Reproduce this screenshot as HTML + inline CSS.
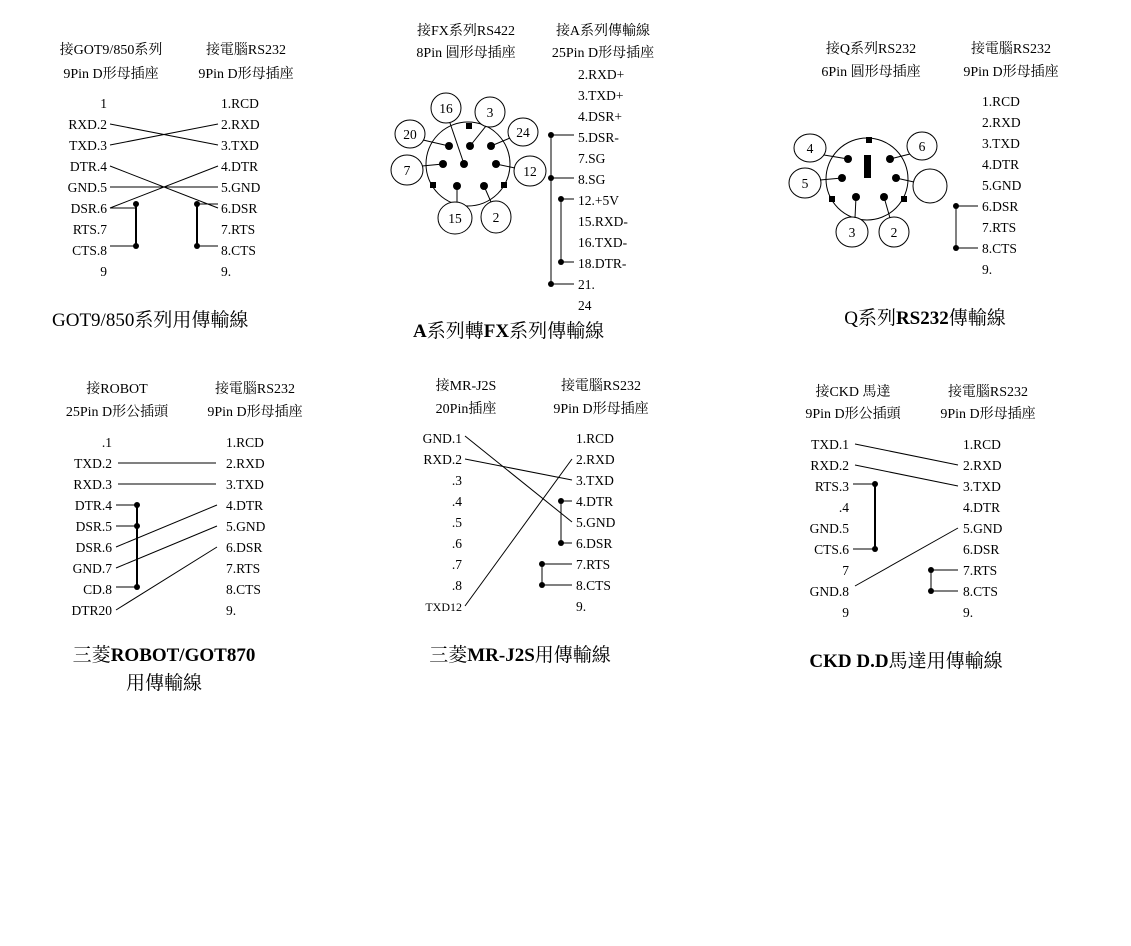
<!DOCTYPE html>
<html><head><meta charset="utf-8"><style>
html,body{margin:0;padding:0;background:#fff;}
svg{display:block;}
text{font-family:"Liberation Serif","Noto Serif CJK SC",serif;font-size:13.5px;fill:#000;}
.h{font-size:14px;}
.t{font-size:19px;}
.r{text-anchor:end;}
.m{text-anchor:middle;}
line,path,polyline{stroke:#000;stroke-width:1;fill:none;}
circle.d{fill:#000;stroke:none;}
ellipse{fill:#fff;stroke:#000;stroke-width:1;}
</style></head><body>
<svg width="1131" height="946" xmlns="http://www.w3.org/2000/svg">
<!-- Panel 1 -->
<text class="h m" x="111" y="54">接GOT9/850系列</text>
<text class="h m" x="111" y="78">9Pin D形母插座</text>
<text class="h m" x="246" y="54">接電腦RS232</text>
<text class="h m" x="246" y="78">9Pin D形母插座</text>
<g class="r">
<text class="r" x="107" y="108">1</text><text class="r" x="107" y="129">RXD.2</text><text class="r" x="107" y="150">TXD.3</text>
<text class="r" x="107" y="171">DTR.4</text><text class="r" x="107" y="192">GND.5</text><text class="r" x="107" y="213">DSR.6</text>
<text class="r" x="107" y="234">RTS.7</text><text class="r" x="107" y="255">CTS.8</text><text class="r" x="107" y="276">9</text>
</g>
<text x="221" y="108">1.RCD</text><text x="221" y="129">2.RXD</text><text x="221" y="150">3.TXD</text>
<text x="221" y="171">4.DTR</text><text x="221" y="192">5.GND</text><text x="221" y="213">6.DSR</text>
<text x="221" y="234">7.RTS</text><text x="221" y="255">8.CTS</text><text x="221" y="276">9.</text>
<line x1="110" y1="124" x2="218" y2="145"/><line x1="110" y1="145" x2="218" y2="124"/>
<line x1="110" y1="166" x2="218" y2="208"/><line x1="110" y1="187" x2="218" y2="187"/>
<line x1="110" y1="208" x2="218" y2="166"/>
<line x1="110" y1="208" x2="136" y2="208"/><line x1="110" y1="246" x2="136" y2="246"/>
<line x1="136" y1="204" x2="136" y2="246" style="stroke-width:2"/>
<circle class="d" cx="136" cy="204" r="3"/><circle class="d" cx="136" cy="246" r="3"/>
<line x1="197" y1="204" x2="218" y2="204"/><line x1="197" y1="246" x2="218" y2="246"/>
<line x1="197" y1="204" x2="197" y2="246" style="stroke-width:2"/>
<circle class="d" cx="197" cy="204" r="3"/><circle class="d" cx="197" cy="246" r="3"/>
<text class="t" x="52" y="326">GOT9/850系列用傳輸線</text>

<!-- Panel 2 -->
<text class="h m" x="466" y="35">接FX系列RS422</text>
<text class="h m" x="466" y="57">8Pin 圓形母插座</text>
<text class="h m" x="603" y="35">接A系列傳輸線</text>
<text class="h m" x="603" y="57">25Pin D形母插座</text>
<text x="578" y="79">2.RXD+</text><text x="578" y="100">3.TXD+</text><text x="578" y="121">4.DSR+</text>
<text x="578" y="142">5.DSR-</text><text x="578" y="163">7.SG</text><text x="578" y="184">8.SG</text>
<text x="578" y="205">12.+5V</text><text x="578" y="226">15.RXD-</text><text x="578" y="247">16.TXD-</text>
<text x="578" y="268">18.DTR-</text><text x="578" y="289">21.</text>
<svg x="570" y="295" width="40" height="15" overflow="hidden"><text x="8" y="15">24</text></svg>
<line x1="551" y1="135" x2="551" y2="284"/>
<line x1="551" y1="135" x2="574" y2="135"/><line x1="551" y1="178" x2="574" y2="178"/><line x1="551" y1="284" x2="574" y2="284"/>
<circle class="d" cx="551" cy="135" r="3"/><circle class="d" cx="551" cy="178" r="3"/><circle class="d" cx="551" cy="284" r="3"/>
<line x1="561" y1="199" x2="561" y2="262"/>
<line x1="561" y1="199" x2="574" y2="199"/><line x1="561" y1="262" x2="574" y2="262"/>
<circle class="d" cx="561" cy="199" r="3"/><circle class="d" cx="561" cy="262" r="3"/>
<circle cx="468" cy="164" r="42" style="fill:none;stroke:#000"/>
<g>
<ellipse cx="446" cy="108" rx="15" ry="15"/><text class="m" x="446" y="113">16</text>
<ellipse cx="490" cy="112" rx="15" ry="15"/><text class="m" x="490" y="117">3</text>
<ellipse cx="410" cy="134" rx="15" ry="14"/><text class="m" x="410" y="139">20</text>
<ellipse cx="523" cy="132" rx="15" ry="14"/><text class="m" x="523" y="137">24</text>
<ellipse cx="407" cy="170" rx="16" ry="15"/><text class="m" x="407" y="175">7</text>
<ellipse cx="530" cy="171" rx="16" ry="15"/><text class="m" x="530" y="176">12</text>
<ellipse cx="455" cy="218" rx="17" ry="16"/><text class="m" x="455" y="223">15</text>
<ellipse cx="496" cy="217" rx="15" ry="16"/><text class="m" x="496" y="222">2</text>
</g>
<line x1="450" y1="123" x2="464" y2="164"/><line x1="486" y1="126" x2="470" y2="146"/>
<line x1="423" y1="140" x2="449" y2="146"/><line x1="510" y1="138" x2="491" y2="146"/>
<line x1="422" y1="166" x2="443" y2="164"/><line x1="515" y1="168" x2="496" y2="164"/>
<line x1="457" y1="202" x2="457" y2="186"/><line x1="491" y1="202" x2="484" y2="186"/>
<circle class="d" cx="449" cy="146" r="4"/><circle class="d" cx="470" cy="146" r="4"/><circle class="d" cx="491" cy="146" r="4"/>
<circle class="d" cx="443" cy="164" r="4"/><circle class="d" cx="464" cy="164" r="4"/><circle class="d" cx="496" cy="164" r="4"/>
<circle class="d" cx="457" cy="186" r="4"/><circle class="d" cx="484" cy="186" r="4"/>
<rect x="466" y="123" width="6" height="6"/><rect x="430" y="182" width="6" height="6"/><rect x="501" y="182" width="6" height="6"/>
<text class="t" x="413" y="337"><tspan font-weight="bold">A</tspan>系列轉<tspan font-weight="bold">FX</tspan>系列傳輸線</text>

<!-- Panel 3 -->
<text class="h m" x="871" y="53">接Q系列RS232</text>
<text class="h m" x="871" y="76">6Pin 圓形母插座</text>
<text class="h m" x="1011" y="53">接電腦RS232</text>
<text class="h m" x="1011" y="76">9Pin D形母插座</text>
<text x="982" y="106">1.RCD</text><text x="982" y="127">2.RXD</text><text x="982" y="148">3.TXD</text>
<text x="982" y="169">4.DTR</text><text x="982" y="190">5.GND</text><text x="982" y="211">6.DSR</text>
<text x="982" y="232">7.RTS</text><text x="982" y="253">8.CTS</text><text x="982" y="274">9.</text>
<line x1="956" y1="206" x2="978" y2="206"/><line x1="956" y1="248" x2="978" y2="248"/>
<line x1="956" y1="206" x2="956" y2="248"/>
<circle class="d" cx="956" cy="206" r="3"/><circle class="d" cx="956" cy="248" r="3"/>
<circle cx="867" cy="179" r="41" style="fill:none;stroke:#000"/>
<ellipse cx="810" cy="148" rx="16" ry="14"/><text class="m" x="810" y="153">4</text>
<ellipse cx="922" cy="146" rx="15" ry="14"/><text class="m" x="922" y="151">6</text>
<ellipse cx="805" cy="183" rx="16" ry="15"/><text class="m" x="805" y="188">5</text>
<ellipse cx="930" cy="186" rx="17" ry="17"/>
<ellipse cx="852" cy="232" rx="16" ry="15"/><text class="m" x="852" y="237">3</text>
<ellipse cx="894" cy="232" rx="15" ry="15"/><text class="m" x="894" y="237">2</text>
<line x1="824" y1="155" x2="848" y2="159"/><line x1="910" y1="154" x2="890" y2="159"/>
<line x1="820" y1="180" x2="842" y2="178"/><line x1="914" y1="182" x2="896" y2="178"/>
<line x1="855" y1="218" x2="856" y2="197"/><line x1="890" y1="218" x2="884" y2="197"/>
<circle class="d" cx="848" cy="159" r="4"/><circle class="d" cx="890" cy="159" r="4"/>
<circle class="d" cx="842" cy="178" r="4"/><circle class="d" cx="896" cy="178" r="4"/>
<circle class="d" cx="856" cy="197" r="4"/><circle class="d" cx="884" cy="197" r="4"/>
<rect x="866" y="137" width="6" height="6"/><rect x="829" y="196" width="6" height="6"/><rect x="901" y="196" width="6" height="6"/>
<rect x="864" y="155" width="7" height="23"/>
<text class="t m" x="925" y="324">Q系列<tspan font-weight="bold">RS232</tspan>傳輸線</text>

<!-- Panel 4 -->
<text class="h m" x="117" y="393">接ROBOT</text>
<text class="h m" x="117" y="416">25Pin D形公插頭</text>
<text class="h m" x="255" y="393">接電腦RS232</text>
<text class="h m" x="255" y="416">9Pin D形母插座</text>
<text class="r" x="112" y="447">.1</text><text class="r" x="112" y="468">TXD.2</text><text class="r" x="112" y="489">RXD.3</text>
<text class="r" x="112" y="510">DTR.4</text><text class="r" x="112" y="531">DSR.5</text><text class="r" x="112" y="552">DSR.6</text>
<text class="r" x="112" y="573">GND.7</text><text class="r" x="112" y="594">CD.8</text><text class="r" x="112" y="615">DTR20</text>
<text x="226" y="447">1.RCD</text><text x="226" y="468">2.RXD</text><text x="226" y="489">3.TXD</text>
<text x="226" y="510">4.DTR</text><text x="226" y="531">5.GND</text><text x="226" y="552">6.DSR</text>
<text x="226" y="573">7.RTS</text><text x="226" y="594">8.CTS</text><text x="226" y="615">9.</text>
<line x1="118" y1="463" x2="216" y2="463"/><line x1="118" y1="484" x2="216" y2="484"/>
<line x1="116" y1="547" x2="217" y2="505"/><line x1="116" y1="568" x2="217" y2="526"/>
<line x1="116" y1="610" x2="217" y2="547"/>
<line x1="116" y1="505" x2="137" y2="505"/><line x1="116" y1="526" x2="137" y2="526"/><line x1="116" y1="587" x2="137" y2="587"/>
<line x1="137" y1="505" x2="137" y2="587" style="stroke-width:2"/>
<circle class="d" cx="137" cy="505" r="3"/><circle class="d" cx="137" cy="526" r="3"/><circle class="d" cx="137" cy="587" r="3"/>
<text class="t m" x="164" y="661">三菱<tspan font-weight="bold">ROBOT/GOT870</tspan></text>
<text class="t m" x="164" y="689">用傳輸線</text>

<!-- Panel 5 -->
<text class="h m" x="466" y="390">接MR-J2S</text>
<text class="h m" x="466" y="413">20Pin插座</text>
<text class="h m" x="601" y="390">接電腦RS232</text>
<text class="h m" x="601" y="413">9Pin D形母插座</text>
<text class="r" x="462" y="443">GND.1</text><text class="r" x="462" y="464">RXD.2</text><text class="r" x="462" y="485">.3</text>
<text class="r" x="462" y="506">.4</text><text class="r" x="462" y="527">.5</text><text class="r" x="462" y="548">.6</text>
<text class="r" x="462" y="569">.7</text><text class="r" x="462" y="590">.8</text><text class="r" x="462" y="611" style="font-size:12px">TXD12</text>
<text x="576" y="443">1.RCD</text><text x="576" y="464">2.RXD</text><text x="576" y="485">3.TXD</text>
<text x="576" y="506">4.DTR</text><text x="576" y="527">5.GND</text><text x="576" y="548">6.DSR</text>
<text x="576" y="569">7.RTS</text><text x="576" y="590">8.CTS</text><text x="576" y="611">9.</text>
<line x1="465" y1="436" x2="572" y2="522"/><line x1="465" y1="459" x2="572" y2="480"/>
<line x1="465" y1="606" x2="572" y2="459"/>
<line x1="561" y1="501" x2="572" y2="501"/><line x1="561" y1="543" x2="572" y2="543"/><line x1="561" y1="501" x2="561" y2="543"/>
<circle class="d" cx="561" cy="501" r="3"/><circle class="d" cx="561" cy="543" r="3"/>
<line x1="542" y1="564" x2="572" y2="564"/><line x1="542" y1="585" x2="572" y2="585"/><line x1="542" y1="564" x2="542" y2="585"/>
<circle class="d" cx="542" cy="564" r="3"/><circle class="d" cx="542" cy="585" r="3"/>
<text class="t m" x="520" y="661">三菱<tspan font-weight="bold">MR-J2S</tspan>用傳輸線</text>

<!-- Panel 6 -->
<text class="h m" x="853" y="396">接CKD 馬達</text>
<text class="h m" x="853" y="418">9Pin D形公插頭</text>
<text class="h m" x="988" y="396">接電腦RS232</text>
<text class="h m" x="988" y="418">9Pin D形母插座</text>
<text class="r" x="849" y="449">TXD.1</text><text class="r" x="849" y="470">RXD.2</text><text class="r" x="849" y="491">RTS.3</text>
<text class="r" x="849" y="512">.4</text><text class="r" x="849" y="533">GND.5</text><text class="r" x="849" y="554">CTS.6</text>
<text class="r" x="849" y="575">7</text><text class="r" x="849" y="596">GND.8</text><text class="r" x="849" y="617">9</text>
<text x="963" y="449">1.RCD</text><text x="963" y="470">2.RXD</text><text x="963" y="491">3.TXD</text>
<text x="963" y="512">4.DTR</text><text x="963" y="533">5.GND</text><text x="963" y="554">6.DSR</text>
<text x="963" y="575">7.RTS</text><text x="963" y="596">8.CTS</text><text x="963" y="617">9.</text>
<line x1="855" y1="444" x2="958" y2="465"/><line x1="855" y1="465" x2="958" y2="486"/>
<line x1="855" y1="586" x2="958" y2="528"/>
<line x1="853" y1="484" x2="875" y2="484"/><line x1="853" y1="549" x2="875" y2="549"/><line x1="875" y1="484" x2="875" y2="549" style="stroke-width:2"/>
<circle class="d" cx="875" cy="484" r="3"/><circle class="d" cx="875" cy="549" r="3"/>
<line x1="931" y1="570" x2="958" y2="570"/><line x1="931" y1="591" x2="958" y2="591"/><line x1="931" y1="570" x2="931" y2="591"/>
<circle class="d" cx="931" cy="570" r="3"/><circle class="d" cx="931" cy="591" r="3"/>
<text class="t m" x="906" y="667"><tspan font-weight="bold">CKD D.D</tspan>馬達用傳輸線</text>
</svg>
</body></html>
